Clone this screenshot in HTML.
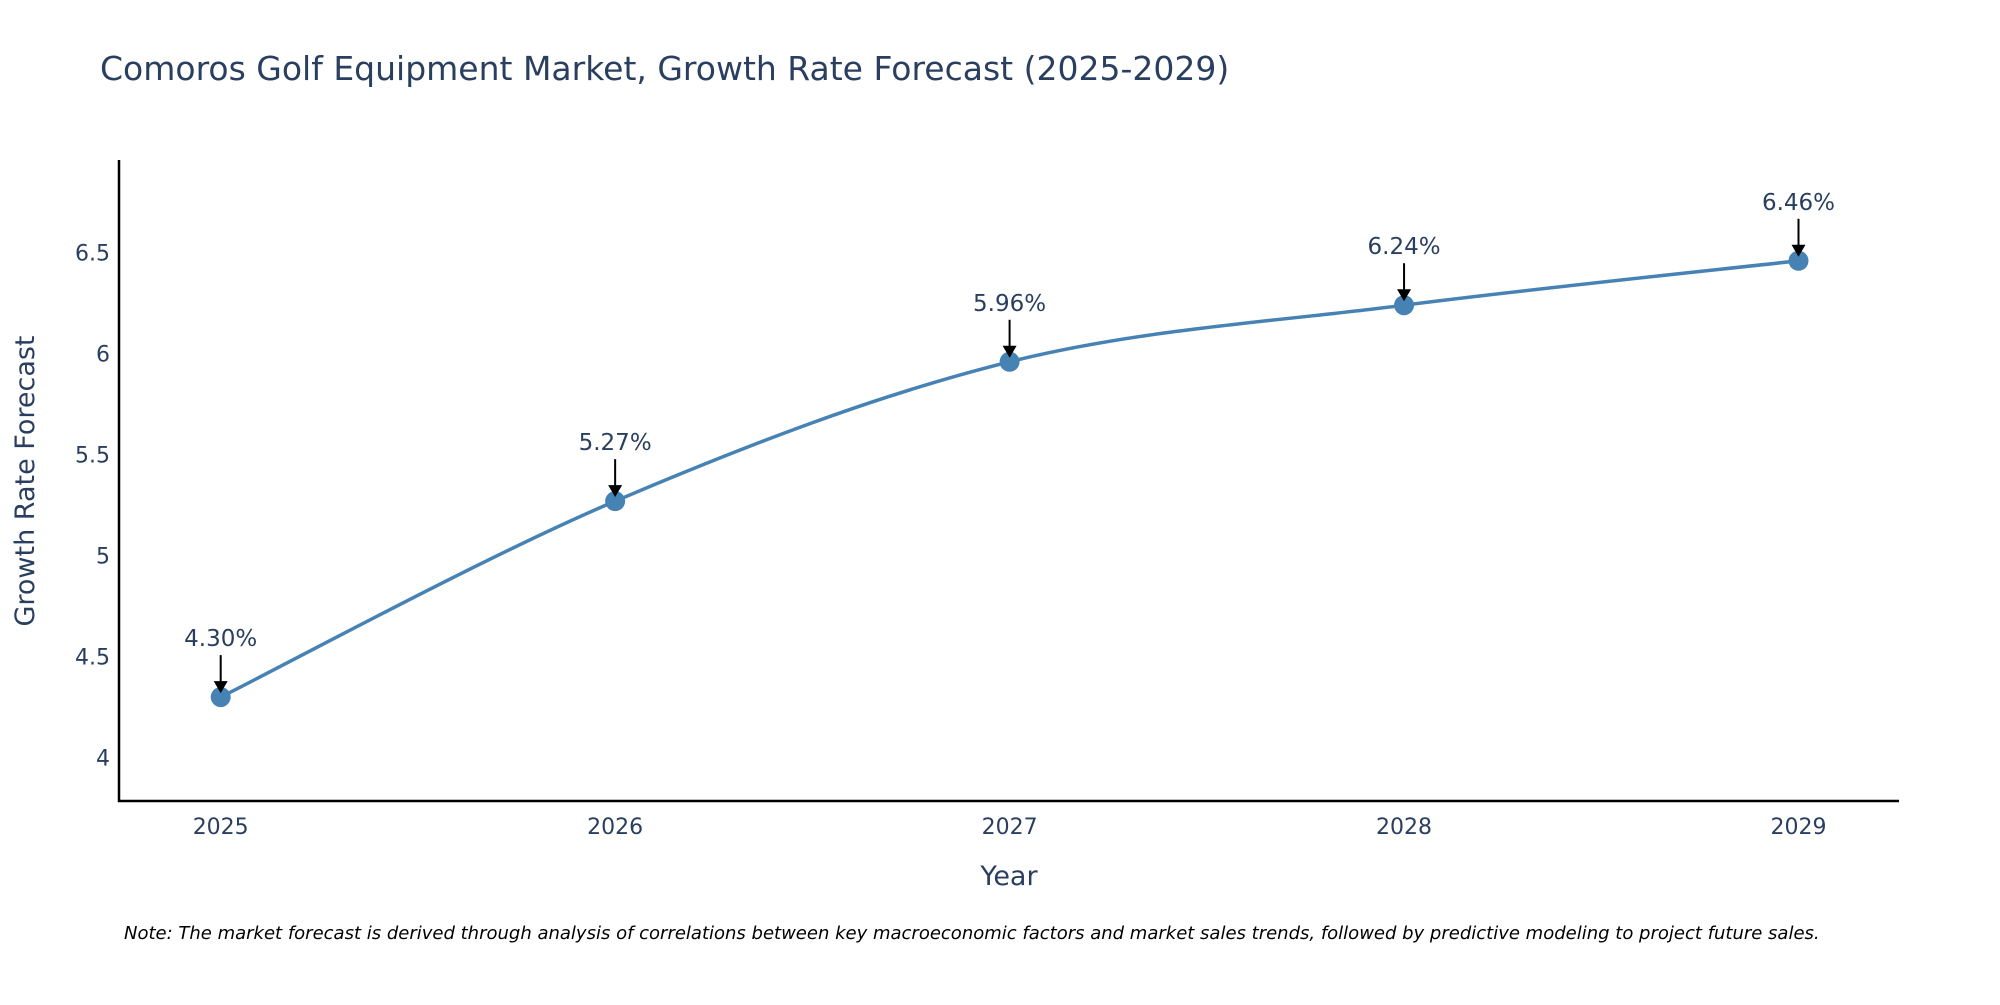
<!DOCTYPE html>
<html><head><meta charset="utf-8">
<style>
body{margin:0;background:#fff;}
svg text{font-family:"DejaVu Sans","Liberation Sans",sans-serif;fill:#2a3f5f;}
</style></head>
<body>
<svg id="chart" width="2000" height="1000" viewBox="0 0 2000 1000" xmlns="http://www.w3.org/2000/svg">
<text x="100" y="80" font-size="33">Comoros Golf Equipment Market, Growth Rate Forecast (2025-2029)</text>
<g id="grid"></g>
<g id="series"></g>
<line x1="119" y1="160" x2="119" y2="802" stroke="#000" stroke-width="2.5"/>
<line x1="118" y1="801" x2="1899" y2="801" stroke="#000" stroke-width="2.5"/>
<text x="1009" y="885" font-size="27" text-anchor="middle">Year</text>
<text transform="translate(34,481) rotate(-90)" font-size="27" text-anchor="middle">Growth Rate Forecast</text>
<text x="124" y="939" font-size="18" font-style="italic" style="fill:#000">Note: The market forecast is derived through analysis of correlations between key macroeconomic factors and market sales trends, followed by predictive modeling to project future sales.</text>
</svg>
<script>
const years = [2025, 2026, 2027, 2028, 2029];
const rates = [4.30, 5.27, 5.96, 6.24, 6.46];
const yTicks = [4, 4.5, 5, 5.5, 6, 6.5];
const yTickLabels = ["4", "4.5", "5", "5.5", "6", "6.5"];

const NS = "http://www.w3.org/2000/svg";
const xPos = v => 220.7 + (v - 2025) * (1798.5 - 220.7) / 4;
const yPos = v => 757.7 - (v - 4) * 202;
const grid = document.getElementById('grid');
const ser = document.getElementById('series');
function mk(tag, attrs, parent){const e=document.createElementNS(NS,tag);for(const k in attrs)e.setAttribute(k,attrs[k]);parent.appendChild(e);return e;}

yTicks.forEach((t,i)=>{
  const e = mk('text',{x:110,y:yPos(t)+8,'font-size':22,'text-anchor':'end'},grid);
  
  
  e.textContent = yTickLabels[i];
});
years.forEach(y=>{
  const e = mk('text',{x:xPos(y),y:834,'font-size':22,'text-anchor':'middle'},grid);
  
  
  e.textContent = String(y);
});

const pts = years.map((y,i)=>[xPos(y), yPos(rates[i])]);
let d = `M${pts[0][0]},${pts[0][1]}`;
for(let i=0;i<pts.length-1;i++){
  const p0=pts[Math.max(0,i-1)],p1=pts[i],p2=pts[i+1],p3=pts[Math.min(pts.length-1,i+2)];
  const s=1/6;
  d+=` C${p1[0]+(p2[0]-p0[0])*s},${p1[1]+(p2[1]-p0[1])*s} ${p2[0]-(p3[0]-p1[0])*s},${p2[1]-(p3[1]-p1[1])*s} ${p2[0]},${p2[1]}`;
}
const line = mk('path',{d:d,fill:'none',stroke:'#4682b4','stroke-width':3.5},ser);



pts.forEach((p,i)=>{
  const c = mk('circle',{cx:p[0],cy:p[1],r:10,fill:'#4682b4'},ser);
  
  
  const a = mk('line',{x1:p[0],y1:p[1]-42,x2:p[0],y2:p[1]-14,stroke:'#000','stroke-width':2},ser);
  
  
  const h = mk('polygon',{points:`${p[0]-7},${p[1]-16} ${p[0]+7},${p[1]-16} ${p[0]},${p[1]-4}`,fill:'#000'},ser);
  
  
  const t = mk('text',{x:p[0],y:p[1]-51,'font-size':23,'text-anchor':'middle'},ser);
  
  
  t.textContent = rates[i].toFixed(2)+'%';
});
</script>
</body></html>
